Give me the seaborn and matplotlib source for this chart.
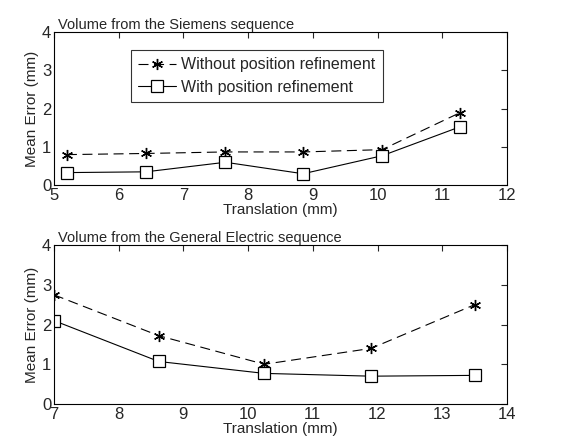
import numpy as np
import pandas as pd
import seaborn as sns
import matplotlib
matplotlib.use("Agg")
import matplotlib.pyplot as plt

# data
siemens_x = [5.2, 6.42, 7.65, 8.85, 10.07, 11.28]
siemens_without = [0.80, 0.83, 0.87, 0.87, 0.93, 1.90]
siemens_with = [0.33, 0.35, 0.60, 0.30, 0.77, 1.53]

ge_x = [7.0, 8.62, 10.25, 11.9, 13.5]
ge_without = [2.75, 1.72, 1.00, 1.40, 2.50]
ge_with = [2.10, 1.07, 0.77, 0.70, 0.72]

sns.set_style("white")
plt.rcParams['font.family'] = ['Liberation Sans', 'DejaVu Sans']

fig = plt.figure(figsize=(5.62, 4.41), dpi=100)
ax1 = fig.add_axes([0.096, 0.580, 0.806, 0.347])
ax2 = fig.add_axes([0.096, 0.084, 0.806, 0.360])


def draw(ax, x, without, with_, title, xlim, xticks):
    sns.lineplot(x=x, y=without, ax=ax, color='black', linestyle=(0, (9, 5)),
                 linewidth=0.8, marker=(6, 2, 0), markersize=8,
                 markeredgecolor='black', markeredgewidth=1.0,
                 label='Without position refinement')
    sns.lineplot(x=x, y=with_, ax=ax, color='black', linewidth=0.8,
                 marker='s', markersize=9, markerfacecolor='white',
                 markeredgecolor='black', markeredgewidth=0.9,
                 label='With position refinement')
    ax.set_xlim(*xlim)
    ax.set_ylim(0, 4)
    ax.set_xticks(xticks)
    ax.set_yticks([0, 1, 2, 3, 4])
    ax.tick_params(direction='in', top=True, right=True, length=4,
                   labelsize=12, width=0.8, pad=2)
    for s in ax.spines.values():
        s.set_color('black')
        s.set_linewidth(0.8)
    ax.set_xlabel('Translation (mm)', fontsize=11, labelpad=0)
    ax.set_ylabel('Mean Error (mm)', fontsize=11, labelpad=2)
    ax.set_title(title, fontsize=10.5, loc='left', pad=2, x=0.01)


draw(ax1, siemens_x, siemens_without, siemens_with,
     'Volume from the Siemens sequence', (5, 12), range(5, 13))
draw(ax2, ge_x, ge_without, ge_with,
     'Volume from the General Electric sequence', (7, 14), range(7, 15))

leg = ax1.legend(loc='upper left', bbox_to_anchor=(0.152, 0.935), fontsize=11.5,
                 frameon=True, fancybox=False, handlelength=2.4,
                 borderpad=0.45, labelspacing=0.45, handletextpad=0.3)
leg.get_frame().set_edgecolor('black')
leg.get_frame().set_linewidth(0.8)
ax2.get_legend().remove()

fig.savefig('out.png', dpi=100)
